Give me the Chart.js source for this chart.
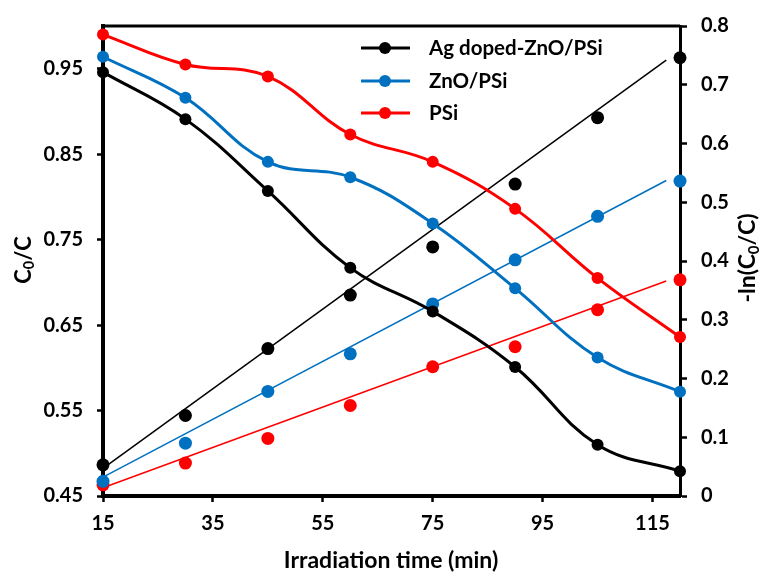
<!DOCTYPE html>
<html>
<head>
<meta charset="utf-8">
<style>
  html, body { margin: 0; padding: 0; background: #fff; }
  #wrap { width: 765px; height: 573px; }
</style>
<script src="https://cdn.jsdelivr.net/npm/chart.js@4.4.1/dist/chart.umd.min.js"></script>
</head>
<body>
<div id="wrap"><canvas id="photoChart" width="765" height="573"></canvas></div>
<script>
// Datos
const times = [15, 30, 45, 60, 75, 90, 105, 120];

// C0/C (eje izquierdo)
const ratioAg  = [0.946, 0.891, 0.807, 0.717, 0.666, 0.601, 0.510, 0.479];
const ratioZnO = [0.964, 0.916, 0.841, 0.823, 0.769, 0.693, 0.612, 0.572];
const ratioPSi = [0.990, 0.955, 0.941, 0.873, 0.841, 0.786, 0.705, 0.636];

// -ln(C0/C) (eje derecho)
const lnAg  = [0.053, 0.137, 0.251, 0.342, 0.424, 0.531, 0.644, 0.746];
const lnZnO = [0.025, 0.090, 0.178, 0.242, 0.327, 0.402, 0.476, 0.536];
const lnPSi = [0.019, 0.056, 0.098, 0.154, 0.220, 0.254, 0.317, 0.368];

// Líneas de ajuste lineal (extremos)
const fitTimes = [15, 117.5];
const fitAg  = [0.047, 0.742];
const fitZnO = [0.032, 0.537];
const fitPSi = [0.014, 0.366];

const seriesNames = ['Ag doped-ZnO/PSi', 'ZnO/PSi', 'PSi'];
const seriesColors = ['#000000', '#0070C0', '#FF0000'];

const xTicks = [15, 35, 55, 75, 95, 115];
const leftTicks = [0.45, 0.55, 0.65, 0.75, 0.85, 0.95];
const rightTicks = [0, 0.1, 0.2, 0.3, 0.4, 0.5, 0.6, 0.7, 0.8];

const FONT = "Lato, 'Open Sans', sans-serif";

function pairs(xs, ys) {
  return xs.map((x, i) => ({ x: x, y: ys[i] }));
}

function curveDataset(label, values, color) {
  return {
    label: label,
    data: pairs(times, values),
    yAxisID: 'y',
    showLine: true,
    borderColor: color,
    backgroundColor: color,
    borderWidth: 3,
    tension: 0.4,
    pointRadius: 6,
    pointBorderWidth: 0,
    clip: false
  };
}

function scatterDataset(label, values, color) {
  return {
    label: label,
    data: pairs(times, values),
    yAxisID: 'yR',
    showLine: false,
    borderColor: color,
    backgroundColor: color,
    pointRadius: 6.5,
    pointBorderWidth: 0,
    clip: false
  };
}

function fitDataset(label, values, color) {
  return {
    label: label,
    data: pairs(fitTimes, values),
    yAxisID: 'yR',
    showLine: true,
    borderColor: color,
    backgroundColor: color,
    borderWidth: 1.5,
    pointRadius: 0,
    tension: 0,
    clip: false
  };
}

// Dibuja texto con subíndice: partes [{t, sub}]
function drawRich(ctx, parts, size) {
  let total = 0;
  parts.forEach(p => {
    ctx.font = 'bold ' + (p.sub ? size * 0.65 : size) + 'px ' + FONT;
    total += ctx.measureText(p.t).width;
  });
  let x = -total / 2;
  parts.forEach(p => {
    ctx.font = 'bold ' + (p.sub ? size * 0.65 : size) + 'px ' + FONT;
    ctx.fillText(p.t, x, p.sub ? size * 0.25 : 0);
    x += ctx.measureText(p.t).width;
  });
}

const decorPlugin = {
  id: 'decor',
  afterDraw(chart) {
    const ctx = chart.ctx;
    const area = chart.chartArea;
    ctx.save();

    // Borde superior
    ctx.strokeStyle = '#000';
    ctx.lineWidth = 3;
    ctx.beginPath();
    ctx.moveTo(area.left, area.top);
    ctx.lineTo(area.right, area.top);
    ctx.stroke();

    // Títulos de ejes
    ctx.fillStyle = '#000';
    ctx.textBaseline = 'middle';
    ctx.textAlign = 'left';

    ctx.save();
    ctx.translate(24, 260);
    ctx.rotate(-Math.PI / 2);
    drawRich(ctx, [{ t: 'C' }, { t: '0', sub: true }, { t: '/C' }], 22);
    ctx.restore();

    ctx.save();
    ctx.translate(748, 258);
    ctx.rotate(-Math.PI / 2);
    drawRich(ctx, [{ t: '-ln(C' }, { t: '0', sub: true }, { t: '/C)' }], 23);
    ctx.restore();

    ctx.save();
    ctx.translate(391, 561);
    drawRich(ctx, [{ t: 'Irradiation time (min)' }], 23);
    ctx.restore();

    // Leyenda dentro del área
    const rowsY = [48, 81, 113];
    seriesNames.forEach((name, i) => {
      const y = rowsY[i];
      ctx.strokeStyle = seriesColors[i];
      ctx.fillStyle = seriesColors[i];
      ctx.lineWidth = 3;
      ctx.beginPath();
      ctx.moveTo(361, y);
      ctx.lineTo(410, y);
      ctx.stroke();
      ctx.beginPath();
      ctx.arc(385, y, 6, 0, Math.PI * 2);
      ctx.fill();
      ctx.fillStyle = '#000';
      ctx.font = 'bold 20.5px ' + FONT;
      ctx.textAlign = 'left';
      ctx.fillText(name, 429, y);
    });

    ctx.restore();
  }
};

function initPhotoChart() {
  const ctx = document.getElementById('photoChart');
  if (typeof Chart === 'undefined') {
    console.error('Chart.js no está cargado');
    return;
  }

  const datasets = [];
  seriesNames.forEach((name, i) => {
    const ratios = [ratioAg, ratioZnO, ratioPSi][i];
    datasets.push(curveDataset(name, ratios, seriesColors[i]));
  });
  seriesNames.forEach((name, i) => {
    const lns = [lnAg, lnZnO, lnPSi][i];
    datasets.push(scatterDataset(name + ' -ln', lns, seriesColors[i]));
  });
  seriesNames.forEach((name, i) => {
    const fits = [fitAg, fitZnO, fitPSi][i];
    datasets.push(fitDataset(name + ' fit', fits, seriesColors[i]));
  });

  const tickFont = { family: FONT, size: 20, weight: 'bold' };

  new Chart(ctx, {
    type: 'scatter',
    data: { datasets: datasets },
    options: {
      responsive: false,
      animation: false,
      layout: { padding: { top: 24, left: 0, right: 0, bottom: 0 } },
      plugins: {
        legend: { display: false },
        tooltip: { enabled: false }
      },
      scales: {
        x: {
          type: 'linear',
          min: 15,
          max: 120,
          afterBuildTicks: scale => { scale.ticks = xTicks.map(v => ({ value: v })); },
          afterFit: scale => { scale.height = 77; },
          ticks: { color: '#000', font: tickFont, padding: 10, maxRotation: 0 },
          grid: { drawOnChartArea: false, drawTicks: true, tickLength: 6, tickWidth: 2.5, color: '#000' },
          border: { display: true, width: 4, color: '#000' }
        },
        y: {
          position: 'left',
          min: 0.45,
          max: 1.0,
          afterBuildTicks: scale => { scale.ticks = leftTicks.map(v => ({ value: v })); },
          afterFit: scale => { scale.width = 103; },
          ticks: { color: '#000', font: tickFont, padding: 14, callback: v => v.toFixed(2) },
          grid: { drawOnChartArea: false, drawTicks: true, tickLength: 6, tickWidth: 2.5, color: '#000' },
          border: { display: true, width: 4, color: '#000' }
        },
        yR: {
          position: 'right',
          min: 0,
          max: 0.8,
          afterBuildTicks: scale => { scale.ticks = rightTicks.map(v => ({ value: v })); },
          afterFit: scale => { scale.width = 85; },
          ticks: { color: '#000', font: tickFont, padding: 14, callback: v => (v === 0 ? '0' : v.toFixed(1)) },
          grid: { drawOnChartArea: false, drawTicks: true, tickLength: 7, tickWidth: 2.5, color: '#000' },
          border: { display: true, width: 3, color: '#000' }
        }
      }
    },
    plugins: [decorPlugin]
  });
}

if (document.readyState === 'loading') {
  document.addEventListener('DOMContentLoaded', initPhotoChart);
} else {
  initPhotoChart();
}
</script>
</body>
</html>
